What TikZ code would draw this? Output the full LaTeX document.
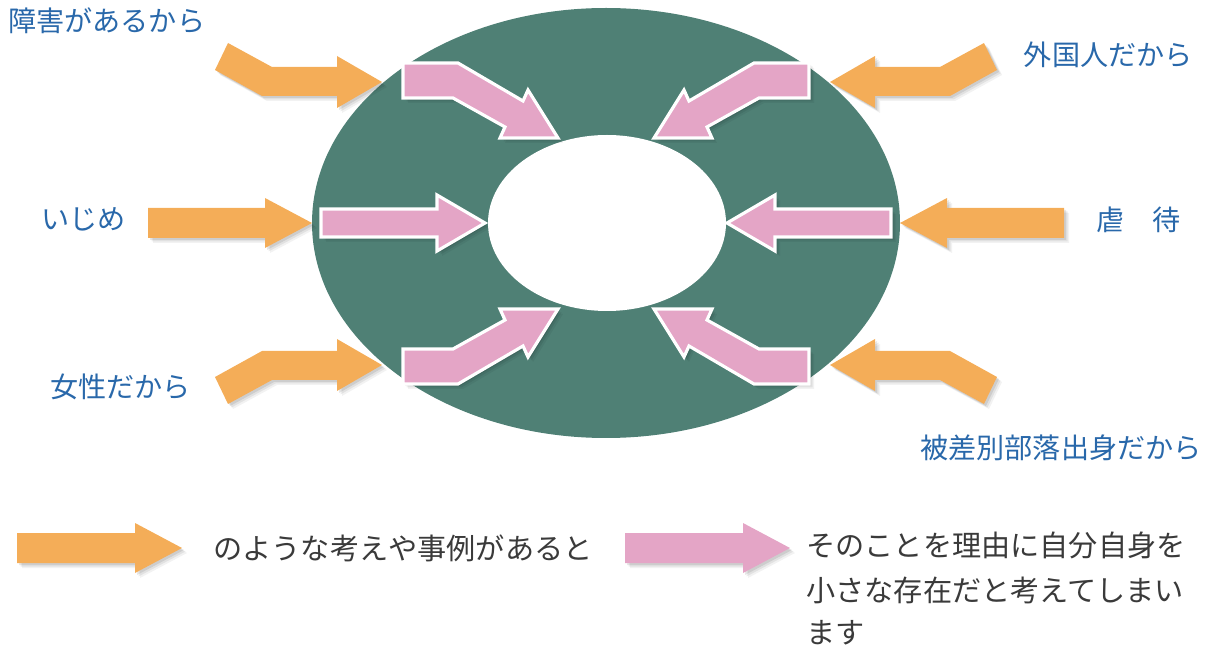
\documentclass[tikz,border=0pt]{standalone}
\usepackage{fontspec}
\newfontfamily\jp{Noto Sans CJK JP}
\definecolor{ringteal}{HTML}{4F8075}
\definecolor{arroworange}{HTML}{F4AD58}
\definecolor{arrowpink}{HTML}{E4A5C6}
\definecolor{labelblue}{HTML}{2968AA}
\definecolor{legendgray}{HTML}{3A3A3A}
\newcommand\shpOrangeBent{(-378,-180.5) -- (-334,-156.5) -- (-269,-156.5) -- (-269,-167.5) -- (-224,-141.5) -- (-269,-115.5) -- (-269,-127.5) -- (-344,-127.5) -- (-391,-153.5) -- cycle}
\newcommand\shpPinkBent{(-203,-160.5) -- (-148,-160.5) -- (-83,-122.5) -- (-78,-133.5) -- (-48,-85.5) -- (-106,-85.5) -- (-101,-96.5) -- (-153,-125.5) -- (-203,-125.5) -- cycle}
\newcommand\shpOrangeStraight{(-458,-15) -- (-341,-15) -- (-341,-25) -- (-294,0) -- (-341,25) -- (-341,15) -- (-458,15) -- cycle}
\newcommand\shpPinkStraight{(-285,-14) -- (-169,-14) -- (-169,-28) -- (-121,0) -- (-169,28) -- (-169,14) -- (-285,14) -- cycle}
\newcommand\shpLegend{(0,-15) -- (118,-15) -- (118,-25) -- (165,0) -- (118,25) -- (118,15) -- (0,15) -- cycle}
\begin{document}
\begin{tikzpicture}[x=0.02cm,y=-0.02cm,
  orangefill/.style={fill=arroworange},
  pinkfill/.style={fill=arrowpink, draw=white, line width=1.8pt, line join=miter},
  shadowlayer/.style={fill=black, draw=none},
  blabel/.style={font=\jp\fontsize{16}{19}\selectfont, text=labelblue, inner sep=0pt},
  glabel/.style={font=\jp\fontsize{16.6}{20}\selectfont, text=legendgray, inner sep=0pt}]
\useasboundingbox (0,0) rectangle (1208,662);
% ring
\fill[ringteal] (606,223) ellipse [x radius=294, y radius=215];
\fill[white] (607,223) ellipse [x radius=119, y radius=88];
% bent arrows (four corners)
\foreach \sx/\sy in {1/1,-1/1,1/-1,-1/-1}{
  \foreach \o/\op in {5/0.05,3.5/0.07,2/0.09}{
    \fill[shadowlayer, opacity=\op, shift={(606+\o,223.5+\o)}, xscale=\sx, yscale=\sy] \shpOrangeBent;
    \fill[shadowlayer, opacity=\op, shift={(606+\o,223.5+\o)}, xscale=\sx, yscale=\sy] \shpPinkBent;
  }
  \fill[orangefill, shift={(606,223.5)}, xscale=\sx, yscale=\sy] \shpOrangeBent;
  \filldraw[pinkfill, shift={(606,223.5)}, xscale=\sx, yscale=\sy] \shpPinkBent;
}
% straight arrows (middle row)
\foreach \sx in {1,-1}{
  \foreach \o/\op in {5/0.05,3.5/0.07,2/0.09}{
    \fill[shadowlayer, opacity=\op, shift={(606+\o,223+\o)}, xscale=\sx] \shpOrangeStraight;
    \fill[shadowlayer, opacity=\op, shift={(606+\o,223+\o)}, xscale=\sx] \shpPinkStraight;
  }
  \fill[orangefill, shift={(606,223)}, xscale=\sx] \shpOrangeStraight;
  \filldraw[pinkfill, shift={(606,223)}, xscale=\sx] \shpPinkStraight;
}
% legend arrows
\foreach \o/\op in {5/0.05,3.5/0.07,2/0.09}{
  \fill[shadowlayer, opacity=\op, shift={(17+\o,548+\o)}] \shpLegend;
  \fill[shadowlayer, opacity=\op, shift={(625+\o,548+\o)}] \shpLegend;
}
\fill[orangefill, shift={(17,548)}] \shpLegend;
\fill[fill=arrowpink, shift={(625,548)}] \shpLegend;
% labels
\node[blabel, anchor=west] (shogai) at (8,21) {障害があるから};
\node[blabel, anchor=east] (gaikoku) at (1193,55) {外国人だから};
\node[blabel, anchor=west] (ijime) at (41,219) {いじめ};
\node[blabel, anchor=east] (gyakutai) at (1181,220) {虐　待};
\node[blabel, anchor=west] (josei) at (50,387) {女性だから};
\node[blabel, anchor=east] (hisabetsu) at (1202,448) {被差別部落出身だから};
\node[glabel, anchor=west] (legendA) at (213,548) {のような考えや事例があると};
\node[glabel, anchor=west] (legendB1) at (806,545) {そのことを理由に自分自身を};
\node[glabel, anchor=west] (legendB2) at (806,590) {小さな存在だと考えてしまい};
\node[glabel, anchor=west] (legendB3) at (806,633) {ます};
\end{tikzpicture}
\end{document}
